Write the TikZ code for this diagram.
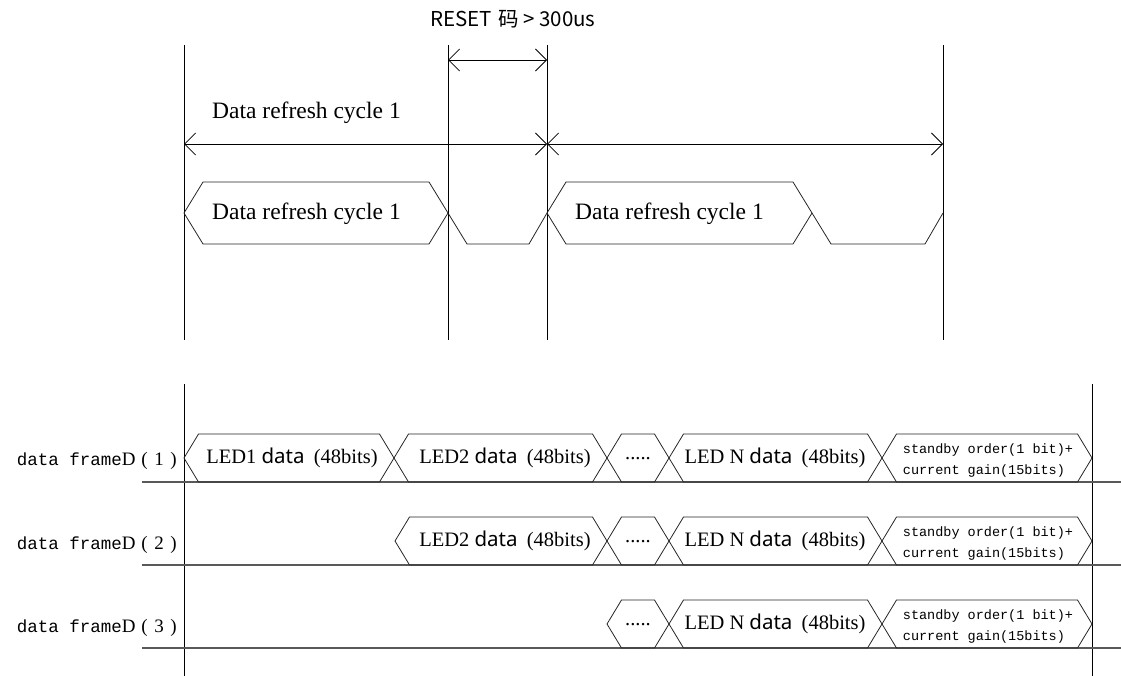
\documentclass[tikz,border=0pt]{standalone}
\usepackage{fontspec}
\setmainfont{Liberation Serif}
\newfontfamily\cjkfont{Noto Sans CJK SC}
\newfontfamily\monofont{Liberation Mono}
\newfontfamily\datafont{Noto Sans}
\usetikzlibrary{arrows.meta,positioning}

% bus segment: left point, right point, middle y, half height, slant
\newcommand{\busseg}[5]{%
	\draw[bus] (#1,#3) -- (#1+#5,#3-#4) -- (#2-#5,#3-#4) -- (#2,#3) -- (#2-#5,#3+#4) -- (#1+#5,#3+#4) -- cycle;}

\begin{document}
\begin{tikzpicture}
	[x=1pt,y=-1pt,
	tickline/.style={black,line width=0.8pt},
	bus/.style={black!85,line width=0.8pt},
	baseline/.style={black!65,line width=1.1pt},
	dimline/.style={black,line width=0.8pt,<->,>={Straight Barb[length=11pt,width=22pt]}},
	cyclbl/.style={anchor=west,inner sep=0pt,font=\fontsize{23.5}{26}\selectfont},
	rowlbl/.style={anchor=east,inner sep=0pt,font=\fontsize{17.5}{20}\selectfont},
	ledlbl/.style={inner sep=0pt,font=\fontsize{20.5}{23}\selectfont},
	gainlbl/.style={inner sep=0pt,align=left,font=\monofont\fontsize{13.5}{21}\selectfont}]
	\useasboundingbox (0,0) rectangle (1121,676);
	%marcas verticales arriba
	\draw[tickline] (184,45) -- (184,340);
	\draw[tickline] (448,45) -- (448,340);
	\draw[tickline] (547,45) -- (547,340);
	\draw[tickline] (943,45) -- (943,340);
	%reset
	\node (rst) at (513,19) [] {\cjkfont\fontsize{20.5}{24}\selectfont RESET\hspace{0.3em}码 > 300us};
	\coordinate (r1) at (448,60);
	\coordinate (r2) at (547,60);
	\draw[dimline] (r1) -- (r2);
	%ciclos
	\coordinate (c0) at (184,144);
	\coordinate (c1) at (547,144);
	\coordinate (c2) at (943,144);
	\draw[dimline] (c0) -- (c1);
	\draw[dimline] (c1) -- (c2);
	\node (cyc0) at (212,113) [cyclbl] {Data refresh cycle 1};
	\busseg{184}{448}{213}{31}{19}
	\busseg{547}{812}{213}{31}{19}
	\draw[bus] (448,213) -- (467,244) -- (529,244) -- (547,213);
	\draw[bus] (812,213) -- (831,244) -- (925,244) -- (943,213);
	\node (cyc1) at (212,214) [cyclbl] {Data refresh cycle 1};
	\node (cyc2) at (575,214) [cyclbl] {Data refresh cycle 1};
	%marcas verticales abajo
	\draw[tickline] (184,384) -- (184,676);
	\draw[tickline] (1092,384) -- (1092,676);
	\draw[baseline] (142,482) -- (1121,482);
	\draw[baseline] (142,565) -- (1121,565);
	\draw[baseline] (142,648) -- (1121,648);
	%tramas
	\node (fr1) at (177,461) [rowlbl] {{\monofont data frame}{\fontsize{19}{22}\selectfont D\hspace{0.3em}(\hspace{0.35em}1\hspace{0.35em})}};
	\node (fr2) at (177,545) [rowlbl] {{\monofont data frame}{\fontsize{19}{22}\selectfont D\hspace{0.3em}(\hspace{0.35em}2\hspace{0.35em})}};
	\node (fr3) at (177,628) [rowlbl] {{\monofont data frame}{\fontsize{19}{22}\selectfont D\hspace{0.3em}(\hspace{0.35em}3\hspace{0.35em})}};
	%fila 1
	\busseg{184}{394}{458}{24}{14.5}
	\busseg{394}{607}{458}{24}{14.5}
	\busseg{607}{669}{458}{24}{14.5}
	\busseg{669}{882}{458}{24}{14.5}
	\busseg{882}{1092}{458}{24}{14.5}
	\node (led1a) at (292,458) [ledlbl] {LED1 {\datafont data}\hspace{0.45em}(48bits)};
	\node (led2a) at (505,458) [ledlbl] {LED2 {\datafont data}\hspace{0.45em}(48bits)};
	\node (dota) at (638,459) [ledlbl] {.....};
	\node (ledna) at (775,458) [ledlbl] {LED N {\datafont data}\hspace{0.45em}(48bits)};
	\node (gaina) at (988,461) [gainlbl] {standby order(1 bit)+\\current gain(15bits)};
	%fila 2
	\busseg{395}{607}{541}{24}{14.5}
	\busseg{607}{669}{541}{24}{14.5}
	\busseg{669}{882}{541}{24}{14.5}
	\busseg{882}{1092}{541}{24}{14.5}
	\node (led2b) at (505,541) [ledlbl] {LED2 {\datafont data}\hspace{0.45em}(48bits)};
	\node (dotb) at (638,542) [ledlbl] {.....};
	\node (lednb) at (775,541) [ledlbl] {LED N {\datafont data}\hspace{0.45em}(48bits)};
	\node (gainb) at (988,544) [gainlbl] {standby order(1 bit)+\\current gain(15bits)};
	%fila 3
	\busseg{607}{669}{624}{24}{14.5}
	\busseg{669}{882}{624}{24}{14.5}
	\busseg{882}{1092}{624}{24}{14.5}
	\node (dotc) at (638,625) [ledlbl] {.....};
	\node (lednc) at (775,624) [ledlbl] {LED N {\datafont data}\hspace{0.45em}(48bits)};
	\node (gainc) at (988,627) [gainlbl] {standby order(1 bit)+\\current gain(15bits)};
\end{tikzpicture}
\end{document}
